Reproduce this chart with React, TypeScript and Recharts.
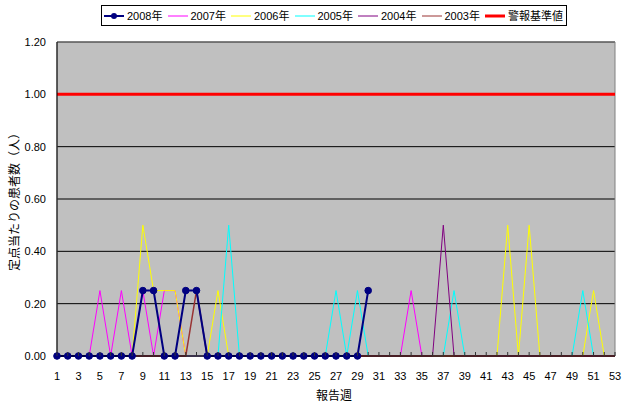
import React from 'react';
import { LineChart, Line, XAxis, YAxis, CartesianGrid, Legend, ReferenceArea, Label } from 'recharts';

const weeks = [1,2,3,4,5,6,7,8,9,10,11,12,13,14,15,16,17,18,19,20,21,22,23,24,25,26,27,28,29,30,31,32,33,34,35,36,37,38,39,40,41,42,43,44,45,46,47,48,49,50,51,52,53];

const s2008 = [0,0,0,0,0,0,0,0,0.25,0.25,0,0,0.25,0.25,0,0,0,0,0,0,0,0,0,0,0,0,0,0,0,0.25,
  null,null,null,null,null,null,null,null,null,null,null,null,null,null,null,null,null,null,null,null,null,null,null];
const s2007 = [0,0,0,0,0.25,0,0.25,0,0.25,0,0.25,0.25,0,0,0,0,0,0,0,0,0,0,0,0,0,0,0,0,0,0,0,0,0,0.25,0,0,0,0,0,0,0,0,0,0,0,0,0,0,0,0,0,0,0];
const s2006 = [0,0,0,0,0,0,0,0,0.5,0.25,0.25,0.25,0,0,0,0.25,0,0,0,0,0,0,0,0,0,0,0,0,0,0,0,0,0,0,0,0,0,0,0,0,0,0,0.5,0,0.5,0,0,0,0,0,0.25,0,0];
const s2005 = [0,0,0,0,0,0,0,0,0,0,0,0,0,0,0,0,0.5,0,0,0,0,0,0,0,0,0,0.25,0,0.25,0,0,0,0,0,0,0,0,0.25,0,0,0,0,0,0,0,0,0,0,0,0.25,0,0,0];
const s2004 = [0,0,0,0,0,0,0,0,0,0,0,0,0,0,0,0,0,0,0,0,0,0,0,0,0,0,0,0,0,0,0,0,0,0,0,0,0.5,0,0,0,0,0,0,0,0,0,0,0,0,0,0,0,0];
const s2003 = [0,0,0,0,0,0,0,0,0,0,0,0,0,0.25,0,0,0,0,0,0,0,0,0,0,0,0,0,0,0,0,0,0,0,0,0,0,0,0,0,0,0,0,0,0,0,0,0,0,0,0,0,0,0];
const warn = [1,1,1,1,1,1,1,1,1,1,1,1,1,1,1,1,1,1,1,1,1,1,1,1,1,1,1,1,1,1,1,1,1,1,1,1,1,1,1,1,1,1,1,1,1,1,1,1,1,1,1,1,1];
const yTicks = [0, 0.2, 0.4, 0.6, 0.8, 1.0, 1.2];

const seriesNames = ['2008年', '2007年', '2006年', '2005年', '2004年', '2003年', '警報基準値'];
const seriesColors = ['#000080', '#FF00FF', '#FFFF00', '#00FFFF', '#800080', '#993333', '#FF0000'];

const data = weeks.map((w, i) => ({
  week: w,
  y2008: s2008[i],
  y2007: s2007[i],
  y2006: s2006[i],
  y2005: s2005[i],
  y2004: s2004[i],
  y2003: s2003[i],
  warn: warn[i],
}));

const NUM_FONT = '"Liberation Sans", Arial, sans-serif';
const JP_FONT = '"Liberation Sans", "Noto Sans CJK JP", sans-serif';

const XTick = (props: any) => {
  const { x, y, payload } = props;
  const v = Number(payload.value);
  return (
    <g>
      <line x1={x} x2={x} y1={y - 4} y2={y} stroke="#333" />
      {v % 2 === 1 && (
        <text x={x} y={y + 24} textAnchor="middle" fontSize={11} fontFamily={NUM_FONT} fill="#000">{v}</text>
      )}
    </g>
  );
};

const renderLegend = () => (
  <div style={{
    border: '1px solid #000', boxSizing: 'border-box', width: 466, height: 21, background: '#fff',
    display: 'flex', alignItems: 'center', fontFamily: JP_FONT, fontSize: 11, color: '#000', paddingLeft: 1,
  }}>
    {seriesNames.map((n, i) => (
      <div key={n} style={{ display: 'flex', alignItems: 'center', width: i === 6 ? 80 : 63.5, flexShrink: 0 }}>
        <svg width={22} height={10} style={{ display: 'block' }}>
          <line x1={1} x2={21} y1={5} y2={5} stroke={seriesColors[i]} strokeWidth={i === 0 ? 2 : i === 6 ? 3 : 1} />
          {i === 0 && <circle cx={11} cy={5} r={3} fill={seriesColors[0]} />}
        </svg>
        <span style={{ marginLeft: 2, whiteSpace: 'nowrap', lineHeight: '12px' }}>{n}</span>
      </div>
    ))}
  </div>
);

const renderXLabel = () => (
  <text x={334} y={400} textAnchor="middle" fontSize={12} fontFamily={JP_FONT} fill="#000">報告週</text>
);

export default function App() {
  return (
    <div style={{ position: 'absolute', left: 0, top: 0, background: '#fff' }}>
      <LineChart width={622} height={409} data={data} margin={{ top: 42, right: 7, bottom: 23, left: 0 }}
        style={{ fontFamily: NUM_FONT }}>
        <CartesianGrid vertical={false} stroke="#000" fill="#C0C0C0" />
        <ReferenceArea x1={1} x2={53} y1={0} y2={1.2} fill="none" stroke="#808080" ifOverflow="visible" />
        <XAxis dataKey="week" type="category" interval={0} tick={<XTick />} tickLine={false} tickSize={0} tickMargin={0}
          height={30} axisLine={{ stroke: '#000' }} padding={{ left: 0, right: 0 }}>
          <Label content={renderXLabel} />
        </XAxis>
        <YAxis width={57} domain={[0, 1.2]} ticks={yTicks} tickFormatter={(v: number) => v.toFixed(2)} tickLine={false}
          tickSize={0} axisLine={{ stroke: '#000' }} tick={{ fontSize: 11, fill: '#000', fontFamily: NUM_FONT }} tickMargin={11}
          label={{ value: '定点当たりの患者数（人）', angle: -90, position: 'insideLeft', offset: 15,
            style: { textAnchor: 'middle', fontSize: 12, fontFamily: JP_FONT, fill: '#000' } }} />
        <Legend layout="vertical" verticalAlign="middle" align="center" content={renderLegend}
          wrapperStyle={{ position: 'absolute', top: 5, left: 101, width: 466, height: 21 }} />
        <Line dataKey="y2007" name="2007年" stroke="#FF00FF" strokeWidth={1} dot={false} isAnimationActive={false} />
        <Line dataKey="y2006" name="2006年" stroke="#FFFF00" strokeWidth={1} dot={false} isAnimationActive={false} />
        <Line dataKey="y2005" name="2005年" stroke="#00FFFF" strokeWidth={1} dot={false} isAnimationActive={false} />
        <Line dataKey="y2004" name="2004年" stroke="#800080" strokeWidth={1} dot={false} isAnimationActive={false} />
        <Line dataKey="y2003" name="2003年" stroke="#993333" strokeWidth={1.5} dot={false} isAnimationActive={false} />
        <Line dataKey="y2008" name="2008年" stroke="#000080" strokeWidth={2}
          dot={{ r: 3.3, fill: '#000080', stroke: '#000080', strokeWidth: 1 }} isAnimationActive={false} />
        <Line dataKey="warn" name="警報基準値" stroke="#FF0000" strokeWidth={3} dot={false} isAnimationActive={false} />
      </LineChart>
    </div>
  );
}
